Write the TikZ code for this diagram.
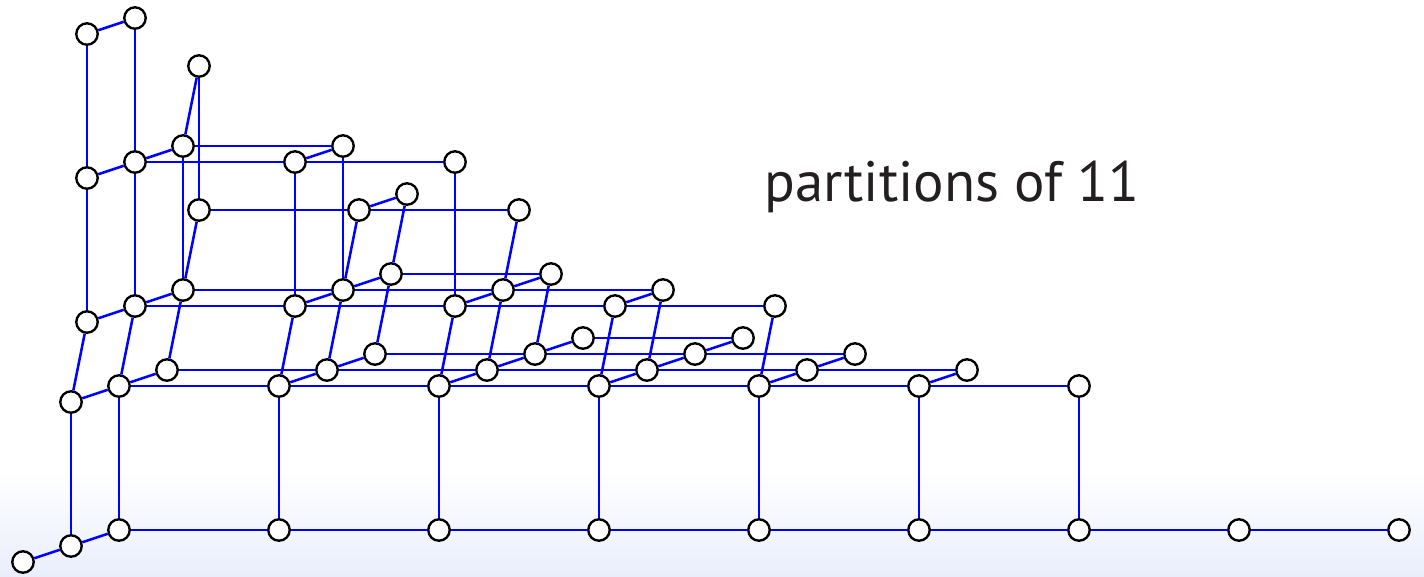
\documentclass[tikz,border=0pt]{standalone}
\usepackage{fontspec}
\setmainfont{PT Sans}
\usetikzlibrary{backgrounds}
\definecolor{edgeblue}{RGB}{0,0,255}
\definecolor{bottomtint}{RGB}{234,238,252}
\definecolor{titlegray}{RGB}{35,31,32}
\tikzset{
	part/.style={circle,draw=black,fill=white,line width=1.35pt,minimum size=12.2pt,inner sep=0pt},
	link/.style={draw=edgeblue,line width=1.45pt}
}
\begin{document}
\begin{tikzpicture}[x=0.02cm,y=-0.02cm]
	\useasboundingbox (0,0) rectangle (1424,576);
	% name = v<b><d><c><a>
	% b = 0, d = 0
	\node[part] at (23,562) (v0000) {};
	\node[part] at (71,546) (v0010) {};
	\node[part] at (119,530) (v0020) {};
	\node[part] at (279,530) (v0021) {};
	\node[part] at (439,530) (v0022) {};
	\node[part] at (599,530) (v0023) {};
	\node[part] at (759,530) (v0024) {};
	\node[part] at (919,530) (v0025) {};
	\node[part] at (1079,530) (v0026) {};
	\node[part] at (1239,530) (v0027) {};
	\node[part] at (1399,530) (v0028) {};
	% b = 1, d = 0
	\node[part] at (71,402) (v1010) {};
	\node[part] at (119,386) (v1020) {};
	\node[part] at (279,386) (v1021) {};
	\node[part] at (439,386) (v1022) {};
	\node[part] at (599,386) (v1023) {};
	\node[part] at (759,386) (v1024) {};
	\node[part] at (919,386) (v1025) {};
	\node[part] at (1079,386) (v1026) {};
	\node[part] at (167,370) (v1030) {};
	\node[part] at (327,370) (v1031) {};
	\node[part] at (487,370) (v1032) {};
	\node[part] at (647,370) (v1033) {};
	\node[part] at (807,370) (v1034) {};
	\node[part] at (967,370) (v1035) {};
	\node[part] at (375,354) (v1041) {};
	\node[part] at (535,354) (v1042) {};
	\node[part] at (695,354) (v1043) {};
	\node[part] at (855,354) (v1044) {};
	\node[part] at (583,338) (v1052) {};
	\node[part] at (743,338) (v1053) {};
	% b = 1, d = 1
	\node[part] at (87,322) (v1110) {};
	\node[part] at (135,306) (v1120) {};
	\node[part] at (295,306) (v1121) {};
	\node[part] at (455,306) (v1122) {};
	\node[part] at (615,306) (v1123) {};
	\node[part] at (775,306) (v1124) {};
	\node[part] at (183,290) (v1130) {};
	\node[part] at (343,290) (v1131) {};
	\node[part] at (503,290) (v1132) {};
	\node[part] at (663,290) (v1133) {};
	\node[part] at (391,274) (v1141) {};
	\node[part] at (551,274) (v1142) {};
	% b = 1, d = 2
	\node[part] at (199,210) (v1230) {};
	\node[part] at (359,210) (v1231) {};
	\node[part] at (519,210) (v1232) {};
	\node[part] at (407,194) (v1241) {};
	% b = 2
	\node[part] at (87,178) (v2110) {};
	\node[part] at (135,162) (v2120) {};
	\node[part] at (295,162) (v2121) {};
	\node[part] at (455,162) (v2122) {};
	\node[part] at (183,146) (v2130) {};
	\node[part] at (343,146) (v2131) {};
	\node[part] at (199,66) (v2230) {};
	% b = 3
	\node[part] at (87,34) (v3110) {};
	\node[part] at (135,18) (v3120) {};

	\node[anchor=base west,inner sep=0pt,text=titlegray,font=\fontsize{32.4}{40}\selectfont] at (764,201) (title) {partitions of 11};

	\begin{pgfonlayer}{background}
	\fill[white] (0,0) rectangle (1424,470);
	\shade[top color=white,bottom color=bottomtint] (0,470) rectangle (1424,576);
	% rows (a)
	\draw[link] (v0020) -- (v0021) -- (v0022) -- (v0023) -- (v0024) -- (v0025) -- (v0026) -- (v0027) -- (v0028);
	\draw[link] (v1020) -- (v1021) -- (v1022) -- (v1023) -- (v1024) -- (v1025) -- (v1026);
	\draw[link] (v1030) -- (v1031) -- (v1032) -- (v1033) -- (v1034) -- (v1035);
	\draw[link] (v1041) -- (v1042) -- (v1043) -- (v1044);
	\draw[link] (v1052) -- (v1053);
	\draw[link] (v1120) -- (v1121) -- (v1122) -- (v1123) -- (v1124);
	\draw[link] (v1130) -- (v1131) -- (v1132) -- (v1133);
	\draw[link] (v1141) -- (v1142);
	\draw[link] (v1230) -- (v1231) -- (v1232);
	\draw[link] (v2120) -- (v2121) -- (v2122);
	\draw[link] (v2130) -- (v2131);
	% depth (c)
	\draw[link] (v0000) -- (v0010) -- (v0020);
	\draw[link] (v1010) -- (v1020) -- (v1030);
	\draw[link] (v1021) -- (v1031) -- (v1041);
	\draw[link] (v1022) -- (v1032) -- (v1042) -- (v1052);
	\draw[link] (v1023) -- (v1033) -- (v1043) -- (v1053);
	\draw[link] (v1024) -- (v1034) -- (v1044);
	\draw[link] (v1025) -- (v1035);
	\draw[link] (v1110) -- (v1120) -- (v1130);
	\draw[link] (v1121) -- (v1131) -- (v1141);
	\draw[link] (v1122) -- (v1132) -- (v1142);
	\draw[link] (v1123) -- (v1133);
	\draw[link] (v1231) -- (v1241);
	\draw[link] (v2110) -- (v2120) -- (v2130);
	\draw[link] (v2121) -- (v2131);
	\draw[link] (v3110) -- (v3120);
	% up (b)
	\draw[link] (v0010) -- (v1010);
	\draw[link] (v0020) -- (v1020);
	\draw[link] (v0021) -- (v1021);
	\draw[link] (v0022) -- (v1022);
	\draw[link] (v0023) -- (v1023);
	\draw[link] (v0024) -- (v1024);
	\draw[link] (v0025) -- (v1025);
	\draw[link] (v0026) -- (v1026);
	\draw[link] (v1110) -- (v2110) -- (v3110);
	\draw[link] (v1120) -- (v2120) -- (v3120);
	\draw[link] (v1121) -- (v2121);
	\draw[link] (v1122) -- (v2122);
	\draw[link] (v1130) -- (v2130);
	\draw[link] (v1131) -- (v2131);
	\draw[link] (v1230) -- (v2230);
	% slanted (d)
	\draw[link] (v1010) -- (v1110);
	\draw[link] (v1020) -- (v1120);
	\draw[link] (v1021) -- (v1121);
	\draw[link] (v1022) -- (v1122);
	\draw[link] (v1023) -- (v1123);
	\draw[link] (v1024) -- (v1124);
	\draw[link] (v1030) -- (v1130) -- (v1230);
	\draw[link] (v1031) -- (v1131) -- (v1231);
	\draw[link] (v1032) -- (v1132) -- (v1232);
	\draw[link] (v1033) -- (v1133);
	\draw[link] (v1041) -- (v1141) -- (v1241);
	\draw[link] (v1042) -- (v1142);
	\draw[link] (v2130) -- (v2230);
	\end{pgfonlayer}
\end{tikzpicture}
\end{document}
